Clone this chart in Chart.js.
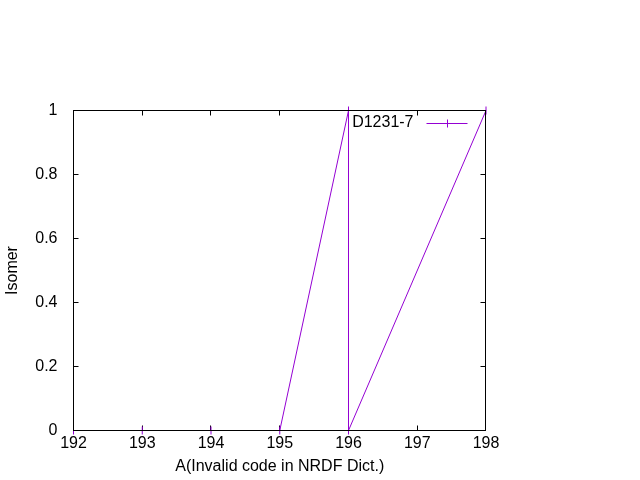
<!DOCTYPE html>
<html>
<head>
<meta charset="utf-8">
<script src="https://cdn.jsdelivr.net/npm/chart.js@4/dist/chart.umd.min.js"></script>
<style>
  html, body { margin: 0; padding: 0; background: #fff; }
  #wrap { width: 640px; height: 480px; }
</style>
</head>
<body>
<div id="wrap"><canvas id="chart" width="640" height="480"></canvas></div>
<script>
const massNumbers = [192, 193, 194, 195, 196, 196, 198];
const isomerValues = [0, 0, 0, 0, 1, 0, 1];
const seriesLabel = 'D1231-7';
const xTitle = 'A(Invalid code in NRDF Dict.)';
const yTitle = 'Isomer';

const lineColor = '#9400d3';
const fontFamily = '"Liberation Sans", Arial, sans-serif';

const crisp = (v) => Math.ceil(v) - 0.5;

const frameBox = (a) => ({ L: crisp(a.left), R: crisp(a.right), T: crisp(a.top), B: crisp(a.bottom) });

// gnuplot-like inward ticks on all four sides (under the data),
// then the border and the key on top
const framePlugin = {
  id: 'frame',
  beforeDatasetsDraw(chart) {
    const { ctx, chartArea, scales } = chart;
    const { L, R, T, B } = frameBox(chartArea);
    const len = 5;
    ctx.save();
    ctx.strokeStyle = '#000';
    ctx.lineWidth = 1;
    ctx.beginPath();
    scales.x.ticks.forEach((t) => {
      const px = crisp(scales.x.getPixelForValue(t.value));
      ctx.moveTo(px, B); ctx.lineTo(px, B - len);
      ctx.moveTo(px, T); ctx.lineTo(px, T + len);
    });
    scales.y.ticks.forEach((t) => {
      const py = crisp(scales.y.getPixelForValue(t.value));
      ctx.moveTo(L, py); ctx.lineTo(L + len, py);
      ctx.moveTo(R, py); ctx.lineTo(R - len, py);
    });
    ctx.stroke();
    ctx.restore();
  },
  afterDraw(chart) {
    const { ctx, chartArea } = chart;
    const { L, R, T, B } = frameBox(chartArea);
    ctx.save();
    ctx.strokeStyle = '#000';
    ctx.lineWidth = 1;
    ctx.strokeRect(L, T, R - L, B - T);

    // key, top right
    const ky = T + 13;
    ctx.fillStyle = '#000';
    ctx.font = '16px ' + fontFamily;
    ctx.textAlign = 'right';
    ctx.textBaseline = 'middle';
    ctx.fillText(seriesLabel, R - 72, ky - 0.5);
    ctx.strokeStyle = lineColor;
    ctx.beginPath();
    ctx.moveTo(R - 59, ky); ctx.lineTo(R - 18, ky);
    ctx.moveTo(R - 38, ky - 4); ctx.lineTo(R - 38, ky + 4);
    ctx.stroke();
    ctx.restore();
  },
};

new Chart(document.getElementById('chart'), {
  type: 'scatter',
  data: {
    datasets: [{
      label: seriesLabel,
      data: massNumbers.map((x, i) => ({ x, y: isomerValues[i] })),
      showLine: true,
      borderColor: lineColor,
      backgroundColor: lineColor,
      borderWidth: 1,
      pointStyle: 'line',
      rotation: 90,
      pointRadius: 4,
      pointBorderWidth: 1,
      pointBorderColor: lineColor,
      clip: false,
    }],
  },
  options: {
    responsive: false,
    animation: false,
    layout: { padding: { top: 110.5, right: 154, left: 0, bottom: 0 } },
    plugins: { legend: { display: false }, tooltip: { enabled: false } },
    scales: {
      x: {
        type: 'linear',
        min: 192,
        max: 198,
        ticks: { stepSize: 1, color: '#000', font: { family: fontFamily, size: 16 }, padding: 3, maxRotation: 0 },
        grid: { display: false, drawTicks: false },
        border: { display: false },
        title: { display: true, text: xTitle, color: '#000', font: { family: fontFamily, size: 16 }, padding: { top: 0, bottom: 4 } },
        afterFit: (scale) => { scale.height = 49.5; },
      },
      y: {
        min: 0,
        max: 1,
        ticks: {
          stepSize: 0.2,
          color: '#000',
          font: { family: fontFamily, size: 16 },
          padding: 8,
          callback: (v) => String(Number(v.toFixed(1))),
        },
        grid: { display: false },
        border: { display: false },
        title: { display: true, text: yTitle, color: '#000', font: { family: fontFamily, size: 16 }, padding: { top: 3, bottom: 14 } },
        afterFit: (scale) => { scale.width = 73.5; },
      },
    },
  },
  plugins: [framePlugin],
});
</script>
</body>
</html>
